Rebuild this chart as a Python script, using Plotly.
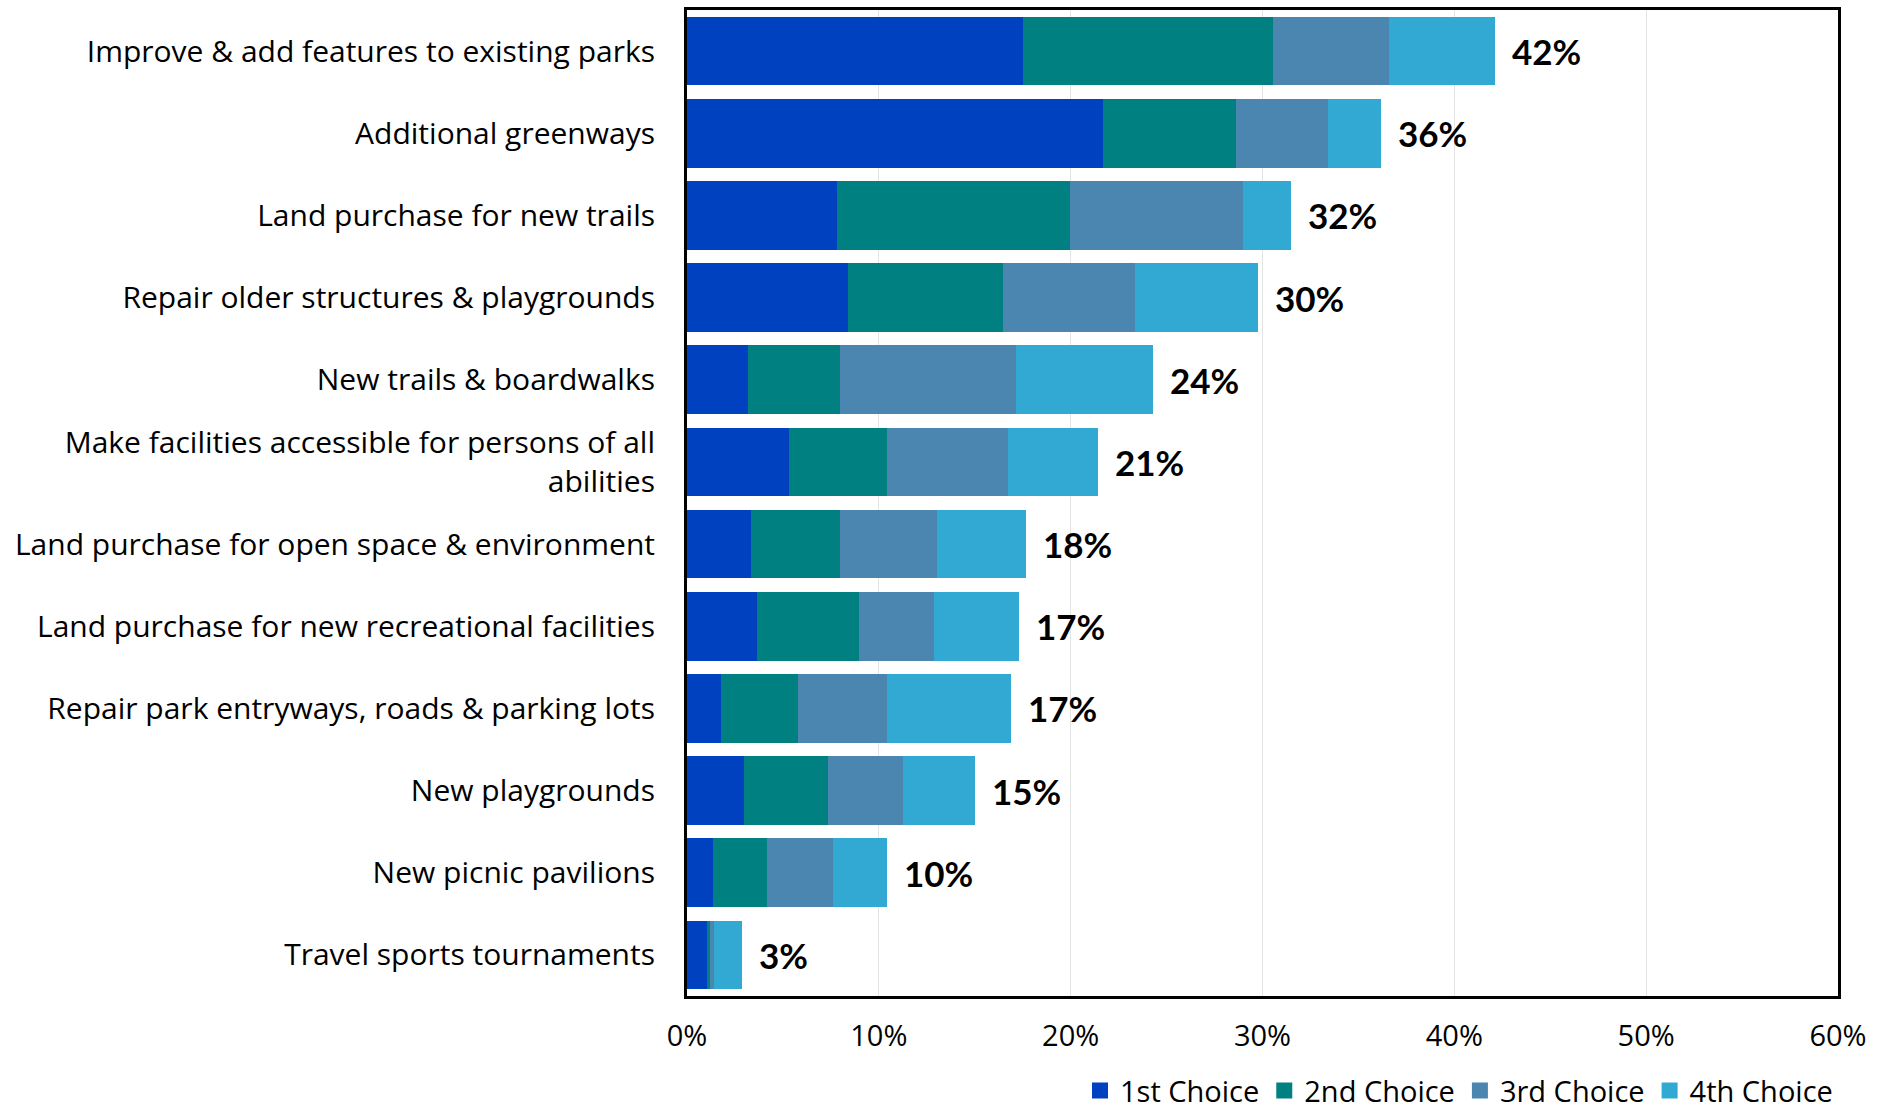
import numpy as np
import plotly.graph_objects as go

# Survey priorities, share of respondents (%) by choice rank
categories = [
    "Improve & add features to existing parks",
    "Additional greenways",
    "Land purchase for new trails",
    "Repair older structures & playgrounds",
    "New trails & boardwalks",
    "Make facilities accessible for persons of all<br>abilities",
    "Land purchase for open space & environment",
    "Land purchase for new recreational facilities",
    "Repair park entryways, roads & parking lots",
    "New playgrounds",
    "New picnic pavilions",
    "Travel sports tournaments",
]
first_choice = [17.5, 21.7, 7.8, 8.4, 3.2, 5.3, 3.35, 3.65, 1.75, 2.95, 1.35, 1.05]
second_choice = [13.05, 6.9, 12.15, 8.05, 4.8, 5.1, 4.65, 5.3, 4.05, 4.4, 2.8, 0.17]
third_choice = [6.05, 4.8, 9.05, 6.9, 9.15, 6.35, 5.05, 3.9, 4.65, 3.9, 3.45, 0.2]
fourth_choice = [5.5, 2.8, 2.5, 6.4, 7.15, 4.65, 4.6, 4.45, 6.45, 3.75, 2.8, 1.45]
total_labels = ["42%", "36%", "32%", "30%", "24%", "21%", "18%", "17%", "17%", "15%", "10%", "3%"]

series = [
    ("1st Choice", first_choice, "#0041BF"),
    ("2nd Choice", second_choice, "#008080"),
    ("3rd Choice", third_choice, "#4A86B0"),
    ("4th Choice", fourth_choice, "#32A9D3"),
]

fig = go.Figure()
for name, vals, color in series:
    fig.add_trace(go.Bar(
        y=categories, x=vals, name=name, orientation="h",
        marker=dict(color=color, line=dict(width=0)),
        showlegend=False,
    ))
# legend entries with bigger square swatches
for name, vals, color in series:
    fig.add_trace(go.Scatter(
        x=[None], y=[None], mode="markers", name=name,
        marker=dict(symbol="square", size=16, color=color),
    ))

totals = np.sum([first_choice, second_choice, third_choice, fourth_choice], axis=0)
for cat, tot, lab in zip(categories, totals, total_labels):
    fig.add_annotation(
        x=tot, y=cat, text=lab, showarrow=False,
        xanchor="left", xshift=15,
        font=dict(family="Lato", size=35, color="black", weight="bold"),
    )

fig.update_layout(
    barmode="stack",
    bargap=0.165,
    width=1887, height=1112,
    margin=dict(l=687, r=49, t=10, b=116, autoexpand=False),
    plot_bgcolor="white", paper_bgcolor="white",
    font=dict(family="Open Sans", color="black"),
    legend=dict(
        orientation="h", x=1.0, xanchor="right", y=-0.096, yanchor="middle",
        font=dict(family="Open Sans", size=29, color="black"),
        traceorder="normal", itemwidth=30,
    ),
)
fig.update_xaxes(
    range=[0, 60], dtick=10, ticksuffix="%",
    showgrid=True, gridcolor="#e4e4e4", gridwidth=1,
    showline=True, linecolor="black", linewidth=3, mirror=True,
    zeroline=False, ticks="", ticklabelstandoff=12,
    tickfont=dict(family="Open Sans", size=29, color="black"),
)
fig.update_yaxes(
    autorange="reversed",
    showline=True, linecolor="black", linewidth=3, mirror=True,
    ticks="", ticklabelstandoff=23,
    tickfont=dict(family="Open Sans", size=30, color="black"),
)

# drop the default 8px page margin so the figure sits at the window corner
fig.write_html("out.html", config={"displayModeBar": False},
               post_script="document.body.style.margin='0';")
